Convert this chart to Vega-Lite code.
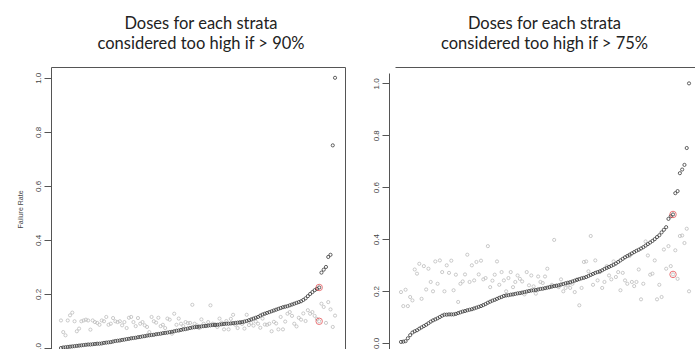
{
  "$schema": "https://vega.github.io/schema/vega-lite/v6.json",
  "padding": {"left": 16, "top": 15, "right": 0, "bottom": 0},
  "background": "white",
  "spacing": 27,
  "config": {
    "view": {"stroke": null},
    "axis": {"grid": false, "domainColor": "#555555", "tickColor": "#555555", "labelColor": "#444444", "labelFont": "Liberation Sans", "titleFont": "Liberation Sans"},
    "title": {"font": "Lato", "fontSize": 16.5, "fontWeight": "normal", "color": "#222222", "lineHeight": 20, "anchor": "middle", "frame": "group"}
  },
  "datasets": {
    "L": [
      {"i":1,"d":0.000,"g":0.102},{"i":2,"d":0.002,"g":0.059},{"i":3,"d":0.003,"g":0.047},{"i":4,"d":0.004,"g":0.102},{"i":5,"d":0.005,"g":0.121},
      {"i":6,"d":0.006,"g":0.131},{"i":7,"d":0.007,"g":0.099},{"i":8,"d":0.008,"g":0.062},{"i":9,"d":0.009,"g":0.072},{"i":10,"d":0.010,"g":0.099},
      {"i":11,"d":0.011,"g":0.102},{"i":12,"d":0.012,"g":0.105},{"i":13,"d":0.013,"g":0.102},{"i":14,"d":0.013,"g":0.068},{"i":15,"d":0.014,"g":0.102},
      {"i":16,"d":0.015,"g":0.096},{"i":17,"d":0.016,"g":0.093},{"i":18,"d":0.016,"g":0.086},{"i":19,"d":0.017,"g":0.102},{"i":20,"d":0.019,"g":0.099},
      {"i":21,"d":0.020,"g":0.115},{"i":22,"d":0.021,"g":0.086},{"i":23,"d":0.022,"g":0.090},{"i":24,"d":0.024,"g":0.111},{"i":25,"d":0.026,"g":0.099},
      {"i":26,"d":0.027,"g":0.096},{"i":27,"d":0.028,"g":0.099},{"i":28,"d":0.030,"g":0.084},{"i":29,"d":0.031,"g":0.096},{"i":30,"d":0.033,"g":0.074},
      {"i":31,"d":0.034,"g":0.112},{"i":32,"d":0.036,"g":0.115},{"i":33,"d":0.037,"g":0.096},{"i":34,"d":0.038,"g":0.081},{"i":35,"d":0.040,"g":0.111},
      {"i":36,"d":0.041,"g":0.090},{"i":37,"d":0.043,"g":0.096},{"i":38,"d":0.044,"g":0.084},{"i":39,"d":0.046,"g":0.078},{"i":40,"d":0.047,"g":0.059},
      {"i":41,"d":0.048,"g":0.115},{"i":42,"d":0.049,"g":0.099},{"i":43,"d":0.051,"g":0.094},{"i":44,"d":0.052,"g":0.112},{"i":45,"d":0.053,"g":0.081},
      {"i":46,"d":0.055,"g":0.086},{"i":47,"d":0.056,"g":0.074},{"i":48,"d":0.057,"g":0.109},{"i":49,"d":0.059,"g":0.105},{"i":50,"d":0.060,"g":0.053},
      {"i":51,"d":0.062,"g":0.127},{"i":52,"d":0.064,"g":0.086},{"i":53,"d":0.065,"g":0.109},{"i":54,"d":0.067,"g":0.090},{"i":55,"d":0.069,"g":0.081},
      {"i":56,"d":0.070,"g":0.096},{"i":57,"d":0.072,"g":0.092},{"i":58,"d":0.074,"g":0.093},{"i":59,"d":0.076,"g":0.160},{"i":60,"d":0.077,"g":0.090},
      {"i":61,"d":0.078,"g":0.084},{"i":62,"d":0.079,"g":0.074},{"i":63,"d":0.080,"g":0.106},{"i":64,"d":0.081,"g":0.090},{"i":65,"d":0.082,"g":0.081},
      {"i":66,"d":0.083,"g":0.096},{"i":67,"d":0.084,"g":0.158},{"i":68,"d":0.085,"g":0.090},{"i":69,"d":0.085,"g":0.088},{"i":70,"d":0.086,"g":0.078},
      {"i":71,"d":0.087,"g":0.109},{"i":72,"d":0.088,"g":0.094},{"i":73,"d":0.089,"g":0.069},{"i":74,"d":0.090,"g":0.100},{"i":75,"d":0.090,"g":0.069},
      {"i":76,"d":0.091,"g":0.108},{"i":77,"d":0.092,"g":0.123},{"i":78,"d":0.093,"g":0.086},{"i":79,"d":0.094,"g":0.074},{"i":80,"d":0.095,"g":0.094},
      {"i":81,"d":0.096,"g":0.089},{"i":82,"d":0.098,"g":0.072},{"i":83,"d":0.100,"g":0.123},{"i":84,"d":0.103,"g":0.085},{"i":85,"d":0.106,"g":0.093},
      {"i":86,"d":0.109,"g":0.083},{"i":87,"d":0.112,"g":0.098},{"i":88,"d":0.115,"g":0.090},{"i":89,"d":0.120,"g":0.075},{"i":90,"d":0.124,"g":0.109},
      {"i":91,"d":0.127,"g":0.087},{"i":92,"d":0.130,"g":0.086},{"i":93,"d":0.133,"g":0.090},{"i":94,"d":0.136,"g":0.062},{"i":95,"d":0.139,"g":0.097},
      {"i":96,"d":0.142,"g":0.091},{"i":97,"d":0.145,"g":0.069},{"i":98,"d":0.148,"g":0.115},{"i":99,"d":0.151,"g":0.069},{"i":100,"d":0.153,"g":0.098},
      {"i":101,"d":0.155,"g":0.127},{"i":102,"d":0.158,"g":0.133},{"i":103,"d":0.161,"g":0.119},{"i":104,"d":0.164,"g":0.090},{"i":105,"d":0.167,"g":0.080},
      {"i":106,"d":0.170,"g":0.112},{"i":107,"d":0.173,"g":0.105},{"i":108,"d":0.178,"g":0.128},{"i":109,"d":0.184,"g":0.100},{"i":110,"d":0.192,"g":0.140},
      {"i":111,"d":0.200,"g":0.127},{"i":112,"d":0.207,"g":0.133},{"i":113,"d":0.214,"g":0.119},{"i":114,"d":0.219,"g":0.108},{"i":115,"d":0.224,"g":0.099},
      {"i":116,"d":0.279,"g":0.164},{"i":117,"d":0.290,"g":0.152},{"i":118,"d":0.300,"g":0.093},{"i":119,"d":0.337,"g":0.170},{"i":120,"d":0.345,"g":0.143},
      {"i":121,"d":0.750,"g":0.078},{"i":122,"d":1.000,"g":0.120}
    ],
    "LR": [{"i":115,"v":0.224},{"i":115,"v":0.099}],
    "R": [
      {"i":1,"d":0.004,"g":0.196},{"i":2,"d":0.005,"g":0.142},{"i":3,"d":0.007,"g":0.205},{"i":4,"d":0.018,"g":0.142},{"i":5,"d":0.030,"g":0.177},
      {"i":6,"d":0.040,"g":0.164},{"i":7,"d":0.045,"g":0.283},{"i":8,"d":0.049,"g":0.267},{"i":9,"d":0.055,"g":0.305},{"i":10,"d":0.060,"g":0.170},
      {"i":11,"d":0.065,"g":0.296},{"i":12,"d":0.070,"g":0.206},{"i":13,"d":0.076,"g":0.286},{"i":14,"d":0.082,"g":0.235},{"i":15,"d":0.087,"g":0.199},
      {"i":16,"d":0.091,"g":0.314},{"i":17,"d":0.095,"g":0.228},{"i":18,"d":0.100,"g":0.318},{"i":19,"d":0.105,"g":0.273},{"i":20,"d":0.109,"g":0.199},
      {"i":21,"d":0.109,"g":0.299},{"i":22,"d":0.110,"g":0.270},{"i":23,"d":0.110,"g":0.317},{"i":24,"d":0.110,"g":0.203},{"i":25,"d":0.112,"g":0.263},
      {"i":26,"d":0.115,"g":0.158},{"i":27,"d":0.118,"g":0.228},{"i":28,"d":0.121,"g":0.237},{"i":29,"d":0.123,"g":0.264},{"i":30,"d":0.126,"g":0.340},
      {"i":31,"d":0.128,"g":0.235},{"i":32,"d":0.130,"g":0.299},{"i":33,"d":0.133,"g":0.241},{"i":34,"d":0.136,"g":0.312},{"i":35,"d":0.139,"g":0.264},
      {"i":36,"d":0.142,"g":0.317},{"i":37,"d":0.146,"g":0.245},{"i":38,"d":0.150,"g":0.250},{"i":39,"d":0.155,"g":0.373},{"i":40,"d":0.159,"g":0.215},
      {"i":41,"d":0.163,"g":0.240},{"i":42,"d":0.166,"g":0.263},{"i":43,"d":0.170,"g":0.314},{"i":44,"d":0.174,"g":0.224},{"i":45,"d":0.177,"g":0.273},
      {"i":46,"d":0.181,"g":0.241},{"i":47,"d":0.183,"g":0.199},{"i":48,"d":0.184,"g":0.250},{"i":49,"d":0.186,"g":0.273},{"i":50,"d":0.187,"g":0.215},
      {"i":51,"d":0.189,"g":0.235},{"i":52,"d":0.191,"g":0.260},{"i":53,"d":0.192,"g":0.247},{"i":54,"d":0.194,"g":0.237},{"i":55,"d":0.196,"g":0.187},
      {"i":56,"d":0.198,"g":0.273},{"i":57,"d":0.200,"g":0.222},{"i":58,"d":0.202,"g":0.260},{"i":59,"d":0.203,"g":0.218},{"i":60,"d":0.204,"g":0.190},
      {"i":61,"d":0.206,"g":0.256},{"i":62,"d":0.208,"g":0.235},{"i":63,"d":0.209,"g":0.231},{"i":64,"d":0.211,"g":0.256},{"i":65,"d":0.213,"g":0.286},
      {"i":66,"d":0.215,"g":0.215},{"i":67,"d":0.217,"g":0.224},{"i":68,"d":0.219,"g":0.397},{"i":69,"d":0.220,"g":0.222},{"i":70,"d":0.222,"g":0.215},
      {"i":71,"d":0.225,"g":0.245},{"i":72,"d":0.227,"g":0.199},{"i":73,"d":0.230,"g":0.212},{"i":74,"d":0.232,"g":0.224},{"i":75,"d":0.234,"g":0.212},
      {"i":76,"d":0.237,"g":0.228},{"i":77,"d":0.240,"g":0.196},{"i":78,"d":0.243,"g":0.245},{"i":79,"d":0.246,"g":0.145},{"i":80,"d":0.249,"g":0.212},
      {"i":81,"d":0.251,"g":0.312},{"i":82,"d":0.254,"g":0.314},{"i":83,"d":0.258,"g":0.276},{"i":84,"d":0.262,"g":0.412},{"i":85,"d":0.266,"g":0.224},
      {"i":86,"d":0.270,"g":0.318},{"i":87,"d":0.273,"g":0.241},{"i":88,"d":0.276,"g":0.273},{"i":89,"d":0.280,"g":0.212},{"i":90,"d":0.285,"g":0.235},
      {"i":91,"d":0.289,"g":0.296},{"i":92,"d":0.293,"g":0.260},{"i":93,"d":0.297,"g":0.245},{"i":94,"d":0.301,"g":0.314},{"i":95,"d":0.306,"g":0.254},
      {"i":96,"d":0.312,"g":0.273},{"i":97,"d":0.318,"g":0.203},{"i":98,"d":0.324,"g":0.270},{"i":99,"d":0.330,"g":0.241},{"i":100,"d":0.335,"g":0.228},
      {"i":101,"d":0.340,"g":0.335},{"i":102,"d":0.345,"g":0.235},{"i":103,"d":0.350,"g":0.219},{"i":104,"d":0.355,"g":0.235},{"i":105,"d":0.359,"g":0.283},
      {"i":106,"d":0.364,"g":0.168},{"i":107,"d":0.369,"g":0.228},{"i":108,"d":0.375,"g":0.391},{"i":109,"d":0.381,"g":0.337},{"i":110,"d":0.387,"g":0.263},
      {"i":111,"d":0.393,"g":0.267},{"i":112,"d":0.400,"g":0.318},{"i":113,"d":0.408,"g":0.168},{"i":114,"d":0.415,"g":0.224},{"i":115,"d":0.426,"g":0.177},
      {"i":116,"d":0.436,"g":0.360},{"i":117,"d":0.446,"g":0.286},{"i":118,"d":0.478,"g":0.373},{"i":119,"d":0.488,"g":0.296},{"i":120,"d":0.495,"g":0.264},
      {"i":121,"d":0.577,"g":0.357},{"i":122,"d":0.585,"g":0.247},{"i":123,"d":0.654,"g":0.412},{"i":124,"d":0.668,"g":0.414},{"i":125,"d":0.686,"g":0.385},
      {"i":126,"d":0.751,"g":0.440},{"i":127,"d":1.000,"g":0.199}
    ],
    "RR": [{"i":120,"v":0.495},{"i":120,"v":0.264}]
  },
  "hconcat": [
    {
      "width": 294,
      "height": 284,
      "title": {"text": ["Doses for each strata", "considered too high if > 90%"], "offset": 15, "dx": 3},
      "resolve": {"axis": {"x": "independent", "y": "independent"}},
      "layer": [
        {
          "data": {"name": "L"},
          "transform": [{"fold": ["g", "d"], "as": ["t", "v"]}],
          "mark": {"type": "point", "shape": "circle", "filled": false, "size": 10, "strokeWidth": 0.8, "opacity": 1},
          "encoding": {
            "x": {"field": "i", "type": "quantitative", "scale": {"domain": [-3.4, 126.4], "nice": false, "zero": false},
                  "axis": {"orient": "top", "ticks": false, "labels": false, "title": null, "domain": true}},
            "y": {"field": "v", "type": "quantitative", "scale": {"domain": [-0.011, 1.04], "nice": false, "zero": false},
                  "axis": {"orient": "left", "values": [0, 0.2, 0.4, 0.6, 0.8, 1], "format": ".1f", "labelAngle": -90, "labelAlign": "center", "labelBaseline": "bottom", "labelFontSize": 8, "labelPadding": 2, "tickSize": 7, "labelFlush": false,
                           "title": "Failure Rate", "titleFontSize": 7, "titleFontWeight": "normal", "titleColor": "#444444", "titlePadding": 11}},
            "color": {"field": "t", "type": "nominal", "scale": {"domain": ["g", "d"], "range": ["#bdbdbd", "#3a3a3a"]}, "legend": null},
            "order": {"field": "t", "sort": "descending"}
          }
        },
        {
          "data": {"name": "LR"},
          "mark": {"type": "point", "shape": "circle", "filled": false, "size": 42, "strokeWidth": 1, "color": "#e23b40"},
          "encoding": {
            "x": {"field": "i", "type": "quantitative", "scale": {"domain": [-3.4, 126.4], "nice": false, "zero": false}, "axis": null},
            "y": {"field": "v", "type": "quantitative", "scale": {"domain": [-0.011, 1.04], "nice": false, "zero": false},
                  "axis": {"orient": "right", "ticks": false, "labels": false, "title": null, "domain": true}}
          }
        }
      ]
    },
    {
      "width": 303,
      "height": 284,
      "title": {"text": ["Doses for each strata", "considered too high if > 75%"], "offset": 15, "dx": 4},
      "resolve": {"axis": {"x": "independent", "y": "independent"}},
      "layer": [
        {
          "data": {"name": "R"},
          "transform": [{"fold": ["g", "d"], "as": ["t", "v"]}],
          "mark": {"type": "point", "shape": "circle", "filled": false, "size": 10, "strokeWidth": 0.8, "opacity": 1},
          "encoding": {
            "x": {"field": "i", "type": "quantitative", "scale": {"domain": [-4.25, 128.3], "nice": false, "zero": false},
                  "axis": {"orient": "top", "position": 6, "ticks": false, "labels": false, "title": null, "domain": true}},
            "y": {"field": "v", "type": "quantitative", "scale": {"domain": [-0.031, 1.04], "range": [284, 6], "nice": false, "zero": false},
                  "axis": {"orient": "left", "values": [0, 0.2, 0.4, 0.6, 0.8, 1], "format": ".1f", "labelAngle": -90, "labelAlign": "center", "labelBaseline": "bottom", "labelFontSize": 8, "labelPadding": 2, "tickSize": 7, "labelFlush": false, "title": null}},
            "color": {"field": "t", "type": "nominal", "scale": {"domain": ["g", "d"], "range": ["#bdbdbd", "#3a3a3a"]}, "legend": null},
            "order": {"field": "t", "sort": "descending"}
          }
        },
        {
          "data": {"name": "RR"},
          "mark": {"type": "point", "shape": "circle", "filled": false, "size": 42, "strokeWidth": 1, "color": "#e23b40"},
          "encoding": {
            "x": {"field": "i", "type": "quantitative", "scale": {"domain": [-4.25, 128.3], "nice": false, "zero": false}, "axis": null},
            "y": {"field": "v", "type": "quantitative", "scale": {"domain": [-0.031, 1.04], "range": [284, 6], "nice": false, "zero": false}, "axis": null}
          }
        }
      ]
    }
  ]
}
